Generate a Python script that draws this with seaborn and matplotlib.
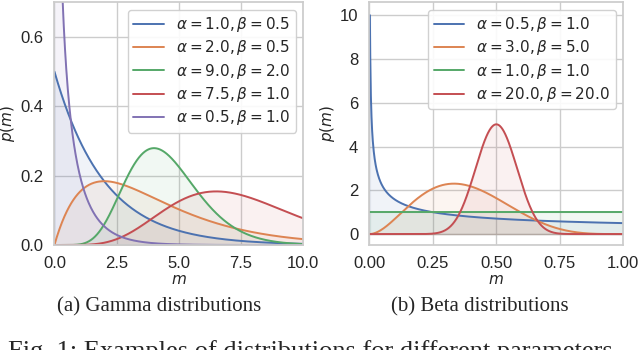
import math
import numpy as np
import pandas as pd
import matplotlib
matplotlib.use("Agg")
import matplotlib.pyplot as plt
import seaborn as sns

# ================= DATOS =================
# parámetros leídos de las leyendas
gamma_alpha = [1.0, 2.0, 9.0, 7.5, 0.5]
gamma_beta = [0.5, 0.5, 2.0, 1.0, 1.0]
beta_alpha = [0.5, 3.0, 1.0, 20.0]
beta_beta = [1.0, 5.0, 1.0, 20.0]

gamma_xticks = [0.0, 2.5, 5.0, 7.5, 10.0]
gamma_yticks = [0.0, 0.2, 0.4, 0.6]
beta_xticks = [0.00, 0.25, 0.50, 0.75, 1.00]
beta_yticks = [0, 2, 4, 6, 8, 10]

m_gamma = np.linspace(0.001, 10.0, 800)
m_beta = np.linspace(0.0025, 1.0, 800)


def gamma_pdf(m, a, b):
    return np.exp(a * np.log(b) + (a - 1) * np.log(m) - b * m - math.lgamma(a))


def beta_pdf(m, a, b):
    with np.errstate(divide='ignore'):
        lb = math.lgamma(a) + math.lgamma(b) - math.lgamma(a + b)
        return np.exp((a - 1) * np.log(m) + (b - 1) * np.log1p(-m) - lb)


def label(a, b):
    return rf"$\alpha = {a:.1f}, \beta = {b:.1f}$"


frames = []
for a, b in zip(gamma_alpha, gamma_beta):
    frames.append(pd.DataFrame({'m': m_gamma, 'p': gamma_pdf(m_gamma, a, b), 'param': label(a, b)}))
df_gamma = pd.concat(frames, ignore_index=True)

frames = []
for a, b in zip(beta_alpha, beta_beta):
    frames.append(pd.DataFrame({'m': m_beta, 'p': beta_pdf(m_beta, a, b), 'param': label(a, b)}))
df_beta = pd.concat(frames, ignore_index=True)

# ================= ESTILO =================
sns.set_theme(style="whitegrid")
plt.rcParams['font.family'] = ['Liberation Sans', 'DejaVu Sans']
plt.rcParams['mathtext.fontset'] = 'dejavusans'
colors = sns.color_palette("deep")

fig = plt.figure(figsize=(6.4, 3.5), dpi=100)
ax1 = fig.add_axes([0.085, 0.30, 0.389, 0.694])
ax2 = fig.add_axes([0.577, 0.30, 0.397, 0.694])


def dibujar(ax, df, params):
    sns.lineplot(data=df, x='m', y='p', hue='param', palette=colors[:len(params)],
                 linewidth=1.4, ax=ax, sort=False)
    for i, lab in enumerate(params):
        d = df[df['param'] == lab]
        ax.fill_between(d['m'], 0, d['p'], color=colors[i], alpha=0.08)
    ax.set_xlabel('$m$', fontsize=11, labelpad=1)
    ax.set_ylabel('$p(m)$', fontsize=11, labelpad=2)
    ax.tick_params(labelsize=12, pad=2)
    ax.legend(loc='upper right', fontsize=11, handlelength=2.0,
              borderpad=0.35, labelspacing=0.28, framealpha=0.9)
    for s in ax.spines.values():
        s.set_edgecolor('#cccccc')


dibujar(ax1, df_gamma, [label(a, b) for a, b in zip(gamma_alpha, gamma_beta)])
ax1.set_xlim(0, 10)
ax1.set_ylim(0, 0.7)
ax1.set_xticks(gamma_xticks)
ax1.set_yticks(gamma_yticks)

dibujar(ax2, df_beta, [label(a, b) for a, b in zip(beta_alpha, beta_beta)])
ax2.set_xlim(0, 1)
ax2.set_ylim(-0.5, 10.6)
ax2.set_xticks(beta_xticks)
ax2.set_yticks(beta_yticks)

serif = ['Liberation Serif', 'DejaVu Serif']
fig.text(0.248, 0.123, '(a) Gamma distributions', family=serif, fontsize=15, ha='center', va='center')
fig.text(0.75, 0.123, '(b) Beta distributions', family=serif, fontsize=15, ha='center', va='center')
fig.text(0.012, -0.023, 'Fig. 1: Examples of distributions for different parameters.',
         family=serif, fontsize=19, ha='left', va='baseline')

fig.savefig('out.png', dpi=100)
